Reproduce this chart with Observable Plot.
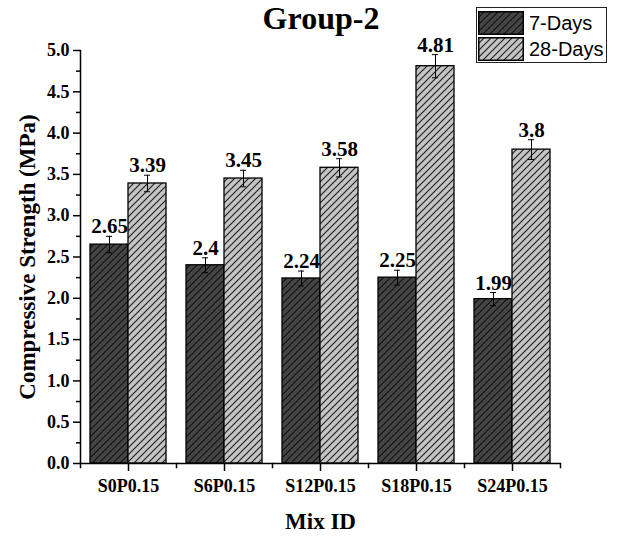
<!DOCTYPE html>
<html>
<head>
<meta charset="utf-8">
<script src="https://cdn.jsdelivr.net/npm/d3@7"></script>
<script src="https://cdn.jsdelivr.net/npm/@observablehq/plot@0.6"></script>
<style>
  html, body { margin: 0; padding: 0; background: white; }
  #wrap { position: relative; width: 620px; height: 537px; }
  #title { position: absolute; top: 2px; left: 321px; transform: translateX(-50%);
    font-family: "Liberation Serif", "Times New Roman", serif; font-weight: bold; font-size: 32px; line-height: 32px; white-space: nowrap; }
  #legend { position: absolute; left: 476px; top: 7px; width: 129px; height: 54px; border: 1px solid #222; background: white;
    font-family: "Liberation Sans", Arial, sans-serif; font-size: 20px; }
  .row { position: absolute; left: 1px; height: 24px; display: flex; align-items: center; }
  .row svg { display: block; }
  .row span { margin-left: 5px; line-height: 24px; }
</style>
</head>
<body>
<svg width="0" height="0" style="position:absolute">
  <defs>
    <pattern id="hatch7" patternUnits="userSpaceOnUse" width="7" height="7">
      <rect width="7" height="7" fill="#454545"></rect>
      <path d="M-1,1 L1,-1 M0,7 L7,0 M6,8 L8,6" stroke="#111" stroke-width="1.2"></path>
    </pattern>
    <pattern id="hatch28" patternUnits="userSpaceOnUse" width="7" height="7">
      <rect width="7" height="7" fill="#c4c4c4"></rect>
      <path d="M-1,1 L1,-1 M0,7 L7,0 M6,8 L8,6" stroke="#222" stroke-width="1.2"></path>
    </pattern>
  </defs>
</svg>
<div id="wrap">
  <div id="chart"></div>
  <div id="title">Group-2</div>
  <div id="legend"></div>
</div>
<script>
const mixes = ["S0P0.15", "S6P0.15", "S12P0.15", "S18P0.15", "S24P0.15"];
const series = ["7-Days", "28-Days"];
const days7 = [2.65, 2.4, 2.24, 2.25, 1.99];
const days28 = [3.39, 3.45, 3.58, 4.81, 3.8];
const err7 = [0.1, 0.09, 0.09, 0.09, 0.08];
const err28 = [0.1, 0.1, 0.11, 0.14, 0.12];
const yTicks = [0, 0.5, 1, 1.5, 2, 2.5, 3, 3.5, 4, 4.5, 5];
const yMinor = [0.25, 0.75, 1.25, 1.75, 2.25, 2.75, 3.25, 3.75, 4.25, 4.75];
const patterns = ["url(#hatch7)", "url(#hatch28)"];

const rows = mixes.flatMap((m, i) => [
  {mix: m, series: series[0], value: days7[i], err: err7[i]},
  {mix: m, series: series[1], value: days28[i], err: err28[i]}
]);

const serif = "'Liberation Serif', 'Times New Roman', serif";
const plotH = 537 - 50 - 74;

const chart = Plot.plot({
  width: 620,
  height: 537,
  marginLeft: 78,
  marginRight: 58,
  marginTop: 50,
  marginBottom: 74,
  style: {fontFamily: serif, color: "black", background: "white", overflow: "visible"},
  fx: {domain: mixes, padding: 0, label: null},
  x: {domain: series, paddingInner: 0, paddingOuter: 0.25, axis: null},
  y: {domain: [0, 5], label: null},
  color: {domain: series, range: patterns},
  marks: [
    Plot.barY(rows, {fx: "mix", x: "series", y: "value", fill: "series", stroke: "black", strokeWidth: 1.3}),
    Plot.ruleX(rows, {fx: "mix", x: "series", y1: d => d.value - d.err, y2: d => d.value + d.err, stroke: "black", strokeWidth: 1}),
    Plot.tickY(rows, {fx: "mix", x: "series", y: d => d.value - d.err, insetLeft: 16, insetRight: 16, stroke: "black", strokeWidth: 1}),
    Plot.tickY(rows, {fx: "mix", x: "series", y: d => d.value + d.err, insetLeft: 16, insetRight: 16, stroke: "black", strokeWidth: 1}),
    Plot.text(rows, {fx: "mix", x: "series", y: d => d.value + d.err, text: d => String(d.value), lineAnchor: "bottom", dy: -3, fontSize: 21, fontWeight: "bold", fill: "black"}),
    Plot.ruleY([0], {stroke: "black", strokeWidth: 1.5}),
    Plot.frame({anchor: "left", facetAnchor: "left", insetBottom: -4, stroke: "black", strokeWidth: 1.5}),
    Plot.frame({anchor: "right", insetTop: plotH, insetBottom: -4, stroke: "black", strokeWidth: 1.5}),
    Plot.axisY({ticks: yTicks, tickFormat: d3.format(".1f"), tickSize: 7, tickPadding: 4, fontSize: 18, fontWeight: "bold", label: null, strokeWidth: 1.5}),
    Plot.axisY({ticks: yMinor, tickFormat: () => "", tickSize: 4, label: null, strokeWidth: 1.5}),
    Plot.axisFx({anchor: "bottom", tickSize: 8, tickPadding: 8, fontSize: 18, fontWeight: "bold", label: null, strokeWidth: 1.5}),
    Plot.text([{mix: mixes[2], t: "Mix ID"}], {fx: "mix", text: "t", frameAnchor: "bottom", textAnchor: "middle", lineAnchor: "middle", dy: 58, fontSize: 23, fontWeight: "bold", fill: "black"}),
    Plot.text([{mix: mixes[0], t: "Compressive Strength (MPa)"}], {fx: "mix", text: "t", frameAnchor: "left", textAnchor: "middle", lineAnchor: "middle", rotate: -90, dx: -53, fontSize: 23, fontWeight: "bold", fill: "black"})
  ]
});
document.getElementById("chart").appendChild(chart);

const legend = document.getElementById("legend");
series.forEach((s, i) => {
  const row = document.createElement("div");
  row.className = "row";
  row.style.top = (3 + i * 26) + "px";
  row.innerHTML = `<svg width="46" height="24"><rect x="0.75" y="0.75" width="44.5" height="22.5" fill="${patterns[i]}" stroke="black" stroke-width="1.5"></rect></svg><span>${s}</span>`;
  legend.appendChild(row);
});
</script>
</body>
</html>
